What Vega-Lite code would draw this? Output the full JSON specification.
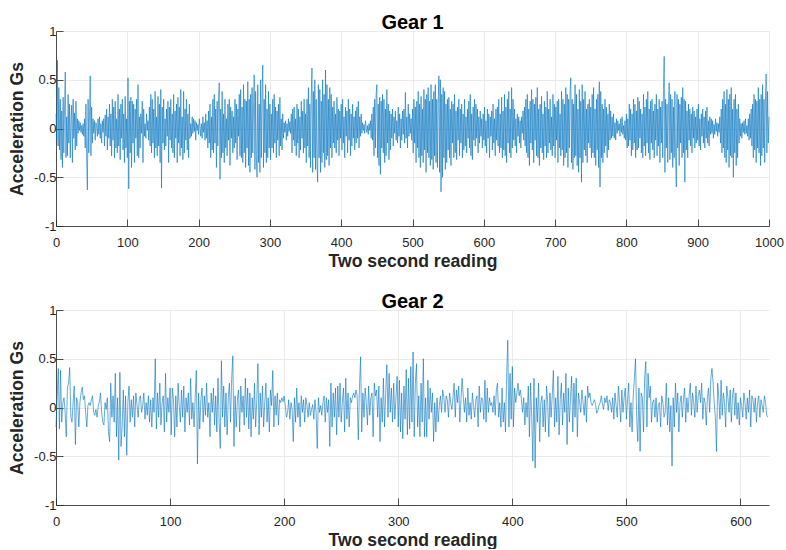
{
"$schema": "https://vega.github.io/schema/vega-lite/v6.json",
"padding": {"left": 8, "top": 13, "right": 10, "bottom": 0},
"spacing": 22,
"config": {
 "view": {"stroke": null},
 "axis": {"domainColor": "#262626", "domainWidth": 0.8, "tickColor": "#262626", "tickSize": -7, "tickWidth": 0.8, "labelFont": "Liberation Sans", "labelFontSize": 13, "labelColor": "#262626", "titleFont": "Liberation Sans", "titleFontSize": 17.6, "titleFontWeight": "bold", "titleColor": "#262626", "gridColor": "#e6e6e6", "gridWidth": 0.8, "labelFlush": false, "labelOverlap": false},
 "axisX": {"labelPadding": 17, "titlePadding": 3},
 "axisY": {"labelPadding": 7, "titlePadding": 7},
 "title": {"font": "Liberation Sans", "fontSize": 20, "fontWeight": "bold", "color": "#000000", "offset": -8, "anchor": "middle", "baseline": "alphabetic", "frame": "group"}
},
"datasets": {
"g1": [
{"x":0,"y":0.15},{"x":1,"y":-0.12},{"x":2,"y":0.7},{"x":3,"y":-0.18},{"x":4,"y":0.42},{"x":5,"y":-0.22},{"x":6,"y":0.3},{"x":7,"y":-0.32},{"x":8,"y":0.18},{"x":9,"y":-0.4},
{"x":10,"y":0.32},{"x":11,"y":-0.25},{"x":12,"y":0.2},{"x":13,"y":0.58},{"x":14,"y":-0.3},{"x":15,"y":0.12},{"x":16,"y":-0.28},{"x":17,"y":0.35},{"x":18,"y":-0.15},{"x":19,"y":0.25},
{"x":20,"y":-0.3},{"x":21,"y":0.08},{"x":22,"y":0.24},{"x":23,"y":-0.35},{"x":24,"y":0.3},{"x":25,"y":-0.1},{"x":26,"y":0.16},{"x":27,"y":-0.22},{"x":28,"y":0.28},{"x":29,"y":-0.18},
{"x":30,"y":0.1},{"x":31,"y":-0.05},{"x":32,"y":0.08},{"x":33,"y":-0.02},{"x":34,"y":0.06},{"x":35,"y":-0.04},{"x":36,"y":0.03},{"x":37,"y":-0.06},{"x":38,"y":0.05},{"x":39,"y":-0.08},
{"x":40,"y":0.1},{"x":41,"y":-0.2},{"x":42,"y":0.25},{"x":43,"y":-0.3},{"x":44,"y":-0.63},{"x":45,"y":0.3},{"x":46,"y":-0.25},{"x":47,"y":0.12},{"x":48,"y":0.54},{"x":49,"y":-0.28},
{"x":50,"y":0.22},{"x":51,"y":-0.15},{"x":52,"y":0.1},{"x":53,"y":-0.05},{"x":54,"y":0.08},{"x":55,"y":-0.12},{"x":56,"y":0.06},{"x":57,"y":0.02},{"x":58,"y":-0.08},{"x":59,"y":0.1},
{"x":60,"y":-0.06},{"x":61,"y":0.12},{"x":62,"y":-0.1},{"x":63,"y":0.05},{"x":64,"y":-0.15},{"x":65,"y":0.08},{"x":66,"y":-0.04},{"x":67,"y":0.1},{"x":68,"y":-0.18},{"x":69,"y":0.14},
{"x":70,"y":-0.08},{"x":71,"y":0.2},{"x":72,"y":-0.22},{"x":73,"y":0.12},{"x":74,"y":-0.1},{"x":75,"y":0.25},{"x":76,"y":-0.18},{"x":77,"y":0.15},{"x":78,"y":-0.28},{"x":79,"y":0.3},
{"x":80,"y":-0.12},{"x":81,"y":0.22},{"x":82,"y":-0.3},{"x":83,"y":0.28},{"x":84,"y":-0.2},{"x":85,"y":0.1},{"x":86,"y":-0.25},{"x":87,"y":0.35},{"x":88,"y":-0.18},{"x":89,"y":0.2},
{"x":90,"y":-0.32},{"x":91,"y":0.25},{"x":92,"y":-0.1},{"x":93,"y":0.3},{"x":94,"y":-0.22},{"x":95,"y":0.15},{"x":96,"y":-0.35},{"x":97,"y":0.33},{"x":98,"y":-0.2},{"x":99,"y":0.1},
{"x":100,"y":-0.3},{"x":101,"y":0.52},{"x":102,"y":-0.62},{"x":103,"y":0.28},{"x":104,"y":-0.25},{"x":105,"y":0.32},{"x":106,"y":-0.4},{"x":107,"y":0.28},{"x":108,"y":-0.15},{"x":109,"y":0.25},
{"x":110,"y":-0.35},{"x":111,"y":0.2},{"x":112,"y":-0.1},{"x":113,"y":0.3},{"x":114,"y":-0.28},{"x":115,"y":0.45},{"x":116,"y":-0.3},{"x":117,"y":0.12},{"x":118,"y":-0.2},{"x":119,"y":0.15},
{"x":120,"y":-0.05},{"x":121,"y":0.28},{"x":122,"y":-0.35},{"x":123,"y":0.2},{"x":124,"y":-0.08},{"x":125,"y":0.05},{"x":126,"y":-0.1},{"x":127,"y":0.15},{"x":128,"y":-0.02},{"x":129,"y":0.08},
{"x":130,"y":-0.12},{"x":131,"y":0.22},{"x":132,"y":-0.18},{"x":133,"y":0.35},{"x":134,"y":-0.25},{"x":135,"y":0.3},{"x":136,"y":-0.15},{"x":137,"y":0.2},{"x":138,"y":-0.3},{"x":139,"y":0.38},
{"x":140,"y":-0.2},{"x":141,"y":0.12},{"x":142,"y":-0.28},{"x":143,"y":0.33},{"x":144,"y":-0.18},{"x":145,"y":0.25},{"x":146,"y":-0.35},{"x":147,"y":0.4},{"x":148,"y":-0.61},{"x":149,"y":0.22},
{"x":150,"y":-0.15},{"x":151,"y":0.3},{"x":152,"y":-0.22},{"x":153,"y":0.1},{"x":154,"y":-0.18},{"x":155,"y":0.2},{"x":156,"y":-0.08},{"x":157,"y":0.28},{"x":158,"y":-0.35},{"x":159,"y":0.22},
{"x":160,"y":-0.12},{"x":161,"y":0.3},{"x":162,"y":-0.2},{"x":163,"y":0.15},{"x":164,"y":-0.25},{"x":165,"y":0.35},{"x":166,"y":-0.3},{"x":167,"y":0.18},{"x":168,"y":-0.1},{"x":169,"y":0.25},
{"x":170,"y":-0.35},{"x":171,"y":0.32},{"x":172,"y":-0.15},{"x":173,"y":0.22},{"x":174,"y":-0.28},{"x":175,"y":0.4},{"x":176,"y":-0.2},{"x":177,"y":0.12},{"x":178,"y":-0.32},{"x":179,"y":0.38},
{"x":180,"y":-0.25},{"x":181,"y":0.2},{"x":182,"y":-0.12},{"x":183,"y":0.3},{"x":184,"y":-0.22},{"x":185,"y":0.15},{"x":186,"y":-0.3},{"x":187,"y":0.25},{"x":188,"y":-0.1},{"x":189,"y":0.05},
{"x":190,"y":-0.08},{"x":191,"y":0.12},{"x":192,"y":-0.05},{"x":193,"y":0.1},{"x":194,"y":-0.03},{"x":195,"y":0.08},{"x":196,"y":-0.12},{"x":197,"y":0.06},{"x":198,"y":-0.02},{"x":199,"y":0.04},
{"x":200,"y":-0.06},{"x":201,"y":0.1},{"x":202,"y":0.02},{"x":203,"y":-0.08},{"x":204,"y":0.05},{"x":205,"y":-0.1},{"x":206,"y":0.12},{"x":207,"y":-0.04},{"x":208,"y":0.06},{"x":209,"y":-0.12},
{"x":210,"y":0.15},{"x":211,"y":-0.1},{"x":212,"y":0.08},{"x":213,"y":-0.2},{"x":214,"y":0.18},{"x":215,"y":-0.15},{"x":216,"y":0.25},{"x":217,"y":-0.3},{"x":218,"y":0.12},{"x":219,"y":-0.22},
{"x":220,"y":0.3},{"x":221,"y":-0.25},{"x":222,"y":0.35},{"x":223,"y":-0.15},{"x":224,"y":0.2},{"x":225,"y":-0.4},{"x":226,"y":0.28},{"x":227,"y":-0.18},{"x":228,"y":0.32},{"x":229,"y":0.47},
{"x":230,"y":-0.52},{"x":231,"y":0.2},{"x":232,"y":-0.3},{"x":233,"y":0.38},{"x":234,"y":-0.25},{"x":235,"y":0.15},{"x":236,"y":-0.35},{"x":237,"y":0.3},{"x":238,"y":-0.2},{"x":239,"y":0.1},
{"x":240,"y":-0.28},{"x":241,"y":0.25},{"x":242,"y":-0.12},{"x":243,"y":0.3},{"x":244,"y":-0.38},{"x":245,"y":0.22},{"x":246,"y":-0.1},{"x":247,"y":0.18},{"x":248,"y":-0.25},{"x":249,"y":0.12},
{"x":250,"y":-0.2},{"x":251,"y":0.3},{"x":252,"y":-0.15},{"x":253,"y":0.25},{"x":254,"y":-0.32},{"x":255,"y":0.2},{"x":256,"y":-0.08},{"x":257,"y":0.35},{"x":258,"y":-0.28},{"x":259,"y":0.4},
{"x":260,"y":-0.3},{"x":261,"y":0.22},{"x":262,"y":-0.35},{"x":263,"y":0.45},{"x":264,"y":-0.25},{"x":265,"y":0.3},{"x":266,"y":-0.4},{"x":267,"y":0.28},{"x":268,"y":-0.2},{"x":269,"y":0.48},
{"x":270,"y":-0.38},{"x":271,"y":0.3},{"x":272,"y":-0.45},{"x":273,"y":0.35},{"x":274,"y":-0.3},{"x":275,"y":0.42},{"x":276,"y":-0.25},{"x":277,"y":0.2},{"x":278,"y":0.55},{"x":279,"y":-0.42},
{"x":280,"y":0.38},{"x":281,"y":-0.3},{"x":282,"y":-0.5},{"x":283,"y":0.45},{"x":284,"y":-0.35},{"x":285,"y":0.25},{"x":286,"y":-0.45},{"x":287,"y":0.5},{"x":288,"y":-0.3},{"x":289,"y":0.35},
{"x":290,"y":0.65},{"x":291,"y":-0.4},{"x":292,"y":0.3},{"x":293,"y":-0.25},{"x":294,"y":0.45},{"x":295,"y":-0.35},{"x":296,"y":0.2},{"x":297,"y":-0.3},{"x":298,"y":0.38},{"x":299,"y":-0.2},
{"x":300,"y":0.25},{"x":301,"y":-0.32},{"x":302,"y":0.15},{"x":303,"y":-0.2},{"x":304,"y":0.3},{"x":305,"y":-0.25},{"x":306,"y":0.35},{"x":307,"y":-0.15},{"x":308,"y":0.22},{"x":309,"y":-0.3},
{"x":310,"y":0.18},{"x":311,"y":-0.12},{"x":312,"y":0.25},{"x":313,"y":-0.28},{"x":314,"y":0.32},{"x":315,"y":-0.18},{"x":316,"y":0.1},{"x":317,"y":-0.22},{"x":318,"y":0.15},{"x":319,"y":-0.1},
{"x":320,"y":0.06},{"x":321,"y":-0.04},{"x":322,"y":0.08},{"x":323,"y":-0.12},{"x":324,"y":0.05},{"x":325,"y":-0.08},{"x":326,"y":0.1},{"x":327,"y":-0.03},{"x":328,"y":0.07},{"x":329,"y":-0.05},
{"x":330,"y":0.15},{"x":331,"y":-0.25},{"x":332,"y":0.2},{"x":333,"y":-0.12},{"x":334,"y":0.22},{"x":335,"y":-0.18},{"x":336,"y":0.1},{"x":337,"y":-0.28},{"x":338,"y":0.25},{"x":339,"y":-0.15},
{"x":340,"y":0.2},{"x":341,"y":-0.3},{"x":342,"y":0.12},{"x":343,"y":-0.22},{"x":344,"y":0.28},{"x":345,"y":-0.1},{"x":346,"y":0.18},{"x":347,"y":-0.25},{"x":348,"y":0.3},{"x":349,"y":-0.2},
{"x":350,"y":0.15},{"x":351,"y":-0.35},{"x":352,"y":0.3},{"x":353,"y":-0.18},{"x":354,"y":0.42},{"x":355,"y":-0.3},{"x":356,"y":0.25},{"x":357,"y":-0.4},{"x":358,"y":0.35},{"x":359,"y":0.62},
{"x":360,"y":-0.45},{"x":361,"y":0.38},{"x":362,"y":-0.3},{"x":363,"y":0.5},{"x":364,"y":-0.42},{"x":365,"y":0.3},{"x":366,"y":-0.35},{"x":367,"y":-0.55},{"x":368,"y":0.45},{"x":369,"y":-0.3},
{"x":370,"y":0.4},{"x":371,"y":-0.45},{"x":372,"y":0.28},{"x":373,"y":-0.35},{"x":374,"y":0.5},{"x":375,"y":-0.25},{"x":376,"y":0.35},{"x":377,"y":-0.4},{"x":378,"y":0.6},{"x":379,"y":-0.32},
{"x":380,"y":0.45},{"x":381,"y":-0.28},{"x":382,"y":0.3},{"x":383,"y":-0.38},{"x":384,"y":0.42},{"x":385,"y":-0.2},{"x":386,"y":0.35},{"x":387,"y":-0.3},{"x":388,"y":0.22},{"x":389,"y":-0.15},
{"x":390,"y":0.28},{"x":391,"y":-0.2},{"x":392,"y":0.15},{"x":393,"y":-0.25},{"x":394,"y":0.32},{"x":395,"y":-0.12},{"x":396,"y":0.2},{"x":397,"y":-0.28},{"x":398,"y":0.18},{"x":399,"y":-0.1},
{"x":400,"y":0.25},{"x":401,"y":-0.22},{"x":402,"y":0.3},{"x":403,"y":-0.15},{"x":404,"y":0.12},{"x":405,"y":-0.3},{"x":406,"y":0.22},{"x":407,"y":-0.08},{"x":408,"y":0.18},{"x":409,"y":-0.25},
{"x":410,"y":0.3},{"x":411,"y":-0.12},{"x":412,"y":0.2},{"x":413,"y":-0.28},{"x":414,"y":0.15},{"x":415,"y":-0.18},{"x":416,"y":0.25},{"x":417,"y":-0.1},{"x":418,"y":0.12},{"x":419,"y":-0.22},
{"x":420,"y":0.18},{"x":421,"y":-0.15},{"x":422,"y":0.22},{"x":423,"y":-0.1},{"x":424,"y":0.28},{"x":425,"y":-0.2},{"x":426,"y":0.12},{"x":427,"y":-0.08},{"x":428,"y":0.15},{"x":429,"y":-0.05},
{"x":430,"y":0.06},{"x":431,"y":-0.02},{"x":432,"y":0.04},{"x":433,"y":-0.05},{"x":434,"y":0.08},{"x":435,"y":0.02},{"x":436,"y":-0.04},{"x":437,"y":0.03},{"x":438,"y":-0.06},{"x":439,"y":0.05},
{"x":440,"y":-0.02},{"x":441,"y":0.08},{"x":442,"y":-0.1},{"x":443,"y":0.15},{"x":444,"y":-0.12},{"x":445,"y":0.22},{"x":446,"y":-0.28},{"x":447,"y":0.3},{"x":448,"y":-0.2},{"x":449,"y":0.35},
{"x":450,"y":0.45},{"x":451,"y":-0.3},{"x":452,"y":0.25},{"x":453,"y":-0.38},{"x":454,"y":0.32},{"x":455,"y":-0.47},{"x":456,"y":0.28},{"x":457,"y":-0.2},{"x":458,"y":0.35},{"x":459,"y":-0.25},
{"x":460,"y":0.3},{"x":461,"y":-0.35},{"x":462,"y":0.2},{"x":463,"y":-0.28},{"x":464,"y":0.4},{"x":465,"y":-0.15},{"x":466,"y":0.25},{"x":467,"y":-0.32},{"x":468,"y":0.18},{"x":469,"y":-0.22},
{"x":470,"y":0.15},{"x":471,"y":-0.1},{"x":472,"y":0.2},{"x":473,"y":-0.18},{"x":474,"y":0.12},{"x":475,"y":-0.05},{"x":476,"y":0.18},{"x":477,"y":-0.12},{"x":478,"y":0.08},{"x":479,"y":-0.15},
{"x":480,"y":0.22},{"x":481,"y":-0.08},{"x":482,"y":0.15},{"x":483,"y":-0.2},{"x":484,"y":0.1},{"x":485,"y":-0.12},{"x":486,"y":0.18},{"x":487,"y":-0.06},{"x":488,"y":0.2},{"x":489,"y":-0.15},
{"x":490,"y":0.37},{"x":491,"y":-0.1},{"x":492,"y":0.12},{"x":493,"y":-0.2},{"x":494,"y":0.25},{"x":495,"y":-0.08},{"x":496,"y":0.15},{"x":497,"y":-0.05},{"x":498,"y":0.1},{"x":499,"y":-0.12},
{"x":500,"y":0.2},{"x":501,"y":-0.25},{"x":502,"y":0.3},{"x":503,"y":-0.15},{"x":504,"y":0.22},{"x":505,"y":-0.35},{"x":506,"y":0.28},{"x":507,"y":-0.2},{"x":508,"y":0.38},{"x":509,"y":-0.3},
{"x":510,"y":0.25},{"x":511,"y":-0.4},{"x":512,"y":0.33},{"x":513,"y":-0.28},{"x":514,"y":0.2},{"x":515,"y":-0.35},{"x":516,"y":0.4},{"x":517,"y":-0.22},{"x":518,"y":0.3},{"x":519,"y":-0.45},
{"x":520,"y":0.35},{"x":521,"y":-0.25},{"x":522,"y":0.42},{"x":523,"y":-0.3},{"x":524,"y":0.28},{"x":525,"y":-0.38},{"x":526,"y":0.45},{"x":527,"y":-0.32},{"x":528,"y":0.3},{"x":529,"y":-0.42},
{"x":530,"y":0.38},{"x":531,"y":-0.28},{"x":532,"y":0.45},{"x":533,"y":-0.35},{"x":534,"y":0.3},{"x":535,"y":-0.4},{"x":536,"y":0.25},{"x":537,"y":0.54},{"x":538,"y":-0.45},{"x":539,"y":0.5},
{"x":540,"y":-0.65},{"x":541,"y":0.35},{"x":542,"y":-0.5},{"x":543,"y":0.42},{"x":544,"y":-0.3},{"x":545,"y":0.38},{"x":546,"y":-0.42},{"x":547,"y":0.25},{"x":548,"y":-0.35},{"x":549,"y":0.3},
{"x":550,"y":-0.22},{"x":551,"y":0.32},{"x":552,"y":-0.3},{"x":553,"y":0.2},{"x":554,"y":-0.38},{"x":555,"y":0.28},{"x":556,"y":-0.15},{"x":557,"y":0.25},{"x":558,"y":-0.3},{"x":559,"y":0.35},
{"x":560,"y":-0.25},{"x":561,"y":0.18},{"x":562,"y":-0.32},{"x":563,"y":0.22},{"x":564,"y":-0.12},{"x":565,"y":0.3},{"x":566,"y":-0.28},{"x":567,"y":0.2},{"x":568,"y":-0.15},{"x":569,"y":0.25},
{"x":570,"y":-0.3},{"x":571,"y":0.15},{"x":572,"y":-0.22},{"x":573,"y":0.3},{"x":574,"y":-0.18},{"x":575,"y":0.12},{"x":576,"y":-0.25},{"x":577,"y":0.2},{"x":578,"y":-0.1},{"x":579,"y":0.28},
{"x":580,"y":-0.2},{"x":581,"y":0.35},{"x":582,"y":-0.28},{"x":583,"y":0.15},{"x":584,"y":-0.32},{"x":585,"y":0.22},{"x":586,"y":-0.12},{"x":587,"y":0.3},{"x":588,"y":-0.18},{"x":589,"y":0.25},
{"x":590,"y":-0.1},{"x":591,"y":0.2},{"x":592,"y":-0.25},{"x":593,"y":0.12},{"x":594,"y":-0.15},{"x":595,"y":0.18},{"x":596,"y":-0.08},{"x":597,"y":0.1},{"x":598,"y":-0.2},{"x":599,"y":0.15},
{"x":600,"y":-0.12},{"x":601,"y":0.22},{"x":602,"y":-0.18},{"x":603,"y":0.08},{"x":604,"y":-0.25},{"x":605,"y":0.2},{"x":606,"y":-0.1},{"x":607,"y":0.15},{"x":608,"y":-0.3},{"x":609,"y":0.12},
{"x":610,"y":-0.08},{"x":611,"y":0.18},{"x":612,"y":-0.22},{"x":613,"y":0.25},{"x":614,"y":-0.15},{"x":615,"y":0.1},{"x":616,"y":-0.28},{"x":617,"y":0.2},{"x":618,"y":-0.12},{"x":619,"y":0.22},
{"x":620,"y":-0.18},{"x":621,"y":0.3},{"x":622,"y":-0.25},{"x":623,"y":0.15},{"x":624,"y":-0.2},{"x":625,"y":0.32},{"x":626,"y":-0.3},{"x":627,"y":0.18},{"x":628,"y":-0.22},{"x":629,"y":0.35},
{"x":630,"y":-0.28},{"x":631,"y":0.22},{"x":632,"y":-0.35},{"x":633,"y":0.3},{"x":634,"y":-0.15},{"x":635,"y":0.38},{"x":636,"y":-0.25},{"x":637,"y":0.2},{"x":638,"y":-0.3},{"x":639,"y":0.42},
{"x":640,"y":-0.2},{"x":641,"y":0.3},{"x":642,"y":-0.12},{"x":643,"y":0.2},{"x":644,"y":-0.18},{"x":645,"y":0.1},{"x":646,"y":-0.25},{"x":647,"y":0.15},{"x":648,"y":-0.08},{"x":649,"y":0.12},
{"x":650,"y":-0.15},{"x":651,"y":0.08},{"x":652,"y":-0.2},{"x":653,"y":0.12},{"x":654,"y":-0.05},{"x":655,"y":0.18},{"x":656,"y":-0.12},{"x":657,"y":0.22},{"x":658,"y":-0.18},{"x":659,"y":0.3},
{"x":660,"y":-0.25},{"x":661,"y":0.35},{"x":662,"y":-0.3},{"x":663,"y":0.2},{"x":664,"y":-0.38},{"x":665,"y":0.28},{"x":666,"y":-0.15},{"x":667,"y":0.4},{"x":668,"y":-0.22},{"x":669,"y":0.3},
{"x":670,"y":-0.35},{"x":671,"y":0.25},{"x":672,"y":-0.12},{"x":673,"y":0.32},{"x":674,"y":-0.28},{"x":675,"y":0.42},{"x":676,"y":-0.3},{"x":677,"y":0.2},{"x":678,"y":-0.38},{"x":679,"y":0.25},
{"x":680,"y":-0.2},{"x":681,"y":0.33},{"x":682,"y":-0.25},{"x":683,"y":0.15},{"x":684,"y":-0.32},{"x":685,"y":0.28},{"x":686,"y":-0.18},{"x":687,"y":0.22},{"x":688,"y":-0.3},{"x":689,"y":0.38},
{"x":690,"y":-0.25},{"x":691,"y":0.2},{"x":692,"y":-0.15},{"x":693,"y":0.3},{"x":694,"y":-0.22},{"x":695,"y":0.12},{"x":696,"y":-0.28},{"x":697,"y":0.35},{"x":698,"y":-0.18},{"x":699,"y":0.25},
{"x":700,"y":-0.3},{"x":701,"y":0.22},{"x":702,"y":-0.12},{"x":703,"y":0.28},{"x":704,"y":-0.35},{"x":705,"y":0.3},{"x":706,"y":-0.2},{"x":707,"y":0.15},{"x":708,"y":-0.28},{"x":709,"y":0.38},
{"x":710,"y":-0.22},{"x":711,"y":0.3},{"x":712,"y":-0.38},{"x":713,"y":0.25},{"x":714,"y":-0.3},{"x":715,"y":0.42},{"x":716,"y":-0.25},{"x":717,"y":0.35},{"x":718,"y":-0.4},{"x":719,"y":0.3},
{"x":720,"y":-0.2},{"x":721,"y":0.38},{"x":722,"y":0.52},{"x":723,"y":-0.35},{"x":724,"y":0.3},{"x":725,"y":-0.42},{"x":726,"y":0.25},{"x":727,"y":-0.3},{"x":728,"y":0.45},{"x":729,"y":-0.28},
{"x":730,"y":0.35},{"x":731,"y":-0.38},{"x":732,"y":0.2},{"x":733,"y":-0.45},{"x":734,"y":0.4},{"x":735,"y":-0.3},{"x":736,"y":0.28},{"x":737,"y":-0.55},{"x":738,"y":0.45},{"x":739,"y":-0.35},
{"x":740,"y":0.3},{"x":741,"y":-0.22},{"x":742,"y":0.38},{"x":743,"y":-0.28},{"x":744,"y":0.2},{"x":745,"y":-0.35},{"x":746,"y":0.25},{"x":747,"y":-0.15},{"x":748,"y":0.3},{"x":749,"y":-0.2},
{"x":750,"y":0.22},{"x":751,"y":-0.3},{"x":752,"y":0.35},{"x":753,"y":-0.25},{"x":754,"y":0.42},{"x":755,"y":-0.3},{"x":756,"y":0.2},{"x":757,"y":-0.38},{"x":758,"y":0.3},{"x":759,"y":-0.22},
{"x":760,"y":0.35},{"x":761,"y":-0.4},{"x":762,"y":0.48},{"x":763,"y":-0.6},{"x":764,"y":0.38},{"x":765,"y":-0.3},{"x":766,"y":0.25},{"x":767,"y":-0.35},{"x":768,"y":0.2},{"x":769,"y":-0.25},
{"x":770,"y":0.3},{"x":771,"y":-0.18},{"x":772,"y":0.22},{"x":773,"y":-0.3},{"x":774,"y":0.15},{"x":775,"y":-0.22},{"x":776,"y":0.25},{"x":777,"y":-0.12},{"x":778,"y":0.18},{"x":779,"y":-0.1},
{"x":780,"y":0.12},{"x":781,"y":-0.08},{"x":782,"y":0.15},{"x":783,"y":-0.1},{"x":784,"y":0.06},{"x":785,"y":-0.12},{"x":786,"y":0.1},{"x":787,"y":-0.05},{"x":788,"y":0.08},{"x":789,"y":-0.02},
{"x":790,"y":0.05},{"x":791,"y":-0.08},{"x":792,"y":0.1},{"x":793,"y":-0.04},{"x":794,"y":0.12},{"x":795,"y":-0.06},{"x":796,"y":0.03},{"x":797,"y":-0.1},{"x":798,"y":0.08},{"x":799,"y":-0.12},
{"x":800,"y":0.15},{"x":801,"y":-0.2},{"x":802,"y":0.1},{"x":803,"y":-0.18},{"x":804,"y":0.25},{"x":805,"y":-0.12},{"x":806,"y":0.2},{"x":807,"y":-0.28},{"x":808,"y":0.15},{"x":809,"y":-0.22},
{"x":810,"y":0.3},{"x":811,"y":-0.15},{"x":812,"y":0.25},{"x":813,"y":-0.3},{"x":814,"y":0.18},{"x":815,"y":-0.22},{"x":816,"y":0.32},{"x":817,"y":-0.2},{"x":818,"y":0.28},{"x":819,"y":-0.1},
{"x":820,"y":0.2},{"x":821,"y":-0.25},{"x":822,"y":0.15},{"x":823,"y":-0.3},{"x":824,"y":0.35},{"x":825,"y":-0.18},{"x":826,"y":0.22},{"x":827,"y":-0.28},{"x":828,"y":0.3},{"x":829,"y":-0.15},
{"x":830,"y":0.38},{"x":831,"y":-0.25},{"x":832,"y":0.2},{"x":833,"y":-0.32},{"x":834,"y":0.28},{"x":835,"y":-0.15},{"x":836,"y":0.3},{"x":837,"y":-0.22},{"x":838,"y":0.18},{"x":839,"y":-0.3},
{"x":840,"y":0.25},{"x":841,"y":-0.12},{"x":842,"y":0.35},{"x":843,"y":-0.28},{"x":844,"y":0.2},{"x":845,"y":-0.18},{"x":846,"y":0.3},{"x":847,"y":-0.35},{"x":848,"y":0.22},{"x":849,"y":-0.15},
{"x":850,"y":0.28},{"x":851,"y":-0.3},{"x":852,"y":0.4},{"x":853,"y":0.74},{"x":854,"y":-0.45},{"x":855,"y":0.3},{"x":856,"y":-0.2},{"x":857,"y":0.25},{"x":858,"y":-0.35},{"x":859,"y":0.2},
{"x":860,"y":0.47},{"x":861,"y":-0.32},{"x":862,"y":0.35},{"x":863,"y":-0.25},{"x":864,"y":0.3},{"x":865,"y":-0.4},{"x":866,"y":0.22},{"x":867,"y":-0.3},{"x":868,"y":0.38},{"x":869,"y":-0.28},
{"x":870,"y":-0.6},{"x":871,"y":0.35},{"x":872,"y":-0.2},{"x":873,"y":0.3},{"x":874,"y":-0.38},{"x":875,"y":0.25},{"x":876,"y":-0.15},{"x":877,"y":0.32},{"x":878,"y":-0.3},{"x":879,"y":0.42},
{"x":880,"y":-0.25},{"x":881,"y":0.3},{"x":882,"y":-0.55},{"x":883,"y":0.28},{"x":884,"y":-0.22},{"x":885,"y":0.18},{"x":886,"y":-0.3},{"x":887,"y":0.25},{"x":888,"y":-0.12},{"x":889,"y":0.2},
{"x":890,"y":-0.18},{"x":891,"y":0.15},{"x":892,"y":-0.25},{"x":893,"y":0.22},{"x":894,"y":-0.1},{"x":895,"y":0.18},{"x":896,"y":-0.2},{"x":897,"y":0.12},{"x":898,"y":-0.15},{"x":899,"y":0.2},
{"x":900,"y":-0.12},{"x":901,"y":0.25},{"x":902,"y":-0.18},{"x":903,"y":0.1},{"x":904,"y":-0.22},{"x":905,"y":0.15},{"x":906,"y":-0.08},{"x":907,"y":0.2},{"x":908,"y":-0.15},{"x":909,"y":0.12},
{"x":910,"y":-0.2},{"x":911,"y":0.18},{"x":912,"y":-0.1},{"x":913,"y":0.22},{"x":914,"y":-0.15},{"x":915,"y":0.08},{"x":916,"y":-0.18},{"x":917,"y":0.12},{"x":918,"y":-0.06},{"x":919,"y":0.1},
{"x":920,"y":-0.05},{"x":921,"y":0.08},{"x":922,"y":-0.1},{"x":923,"y":0.04},{"x":924,"y":-0.06},{"x":925,"y":0.1},{"x":926,"y":-0.03},{"x":927,"y":0.06},{"x":928,"y":-0.08},{"x":929,"y":0.05},
{"x":930,"y":-0.04},{"x":931,"y":0.12},{"x":932,"y":-0.15},{"x":933,"y":0.2},{"x":934,"y":-0.25},{"x":935,"y":0.3},{"x":936,"y":-0.2},{"x":937,"y":0.38},{"x":938,"y":-0.3},{"x":939,"y":0.25},
{"x":940,"y":-0.35},{"x":941,"y":0.4},{"x":942,"y":-0.22},{"x":943,"y":0.3},{"x":944,"y":-0.4},{"x":945,"y":0.35},{"x":946,"y":-0.28},{"x":947,"y":0.42},{"x":948,"y":-0.3},{"x":949,"y":0.2},
{"x":950,"y":-0.5},{"x":951,"y":0.3},{"x":952,"y":-0.25},{"x":953,"y":0.35},{"x":954,"y":-0.38},{"x":955,"y":0.2},{"x":956,"y":-0.3},{"x":957,"y":0.25},{"x":958,"y":-0.15},{"x":959,"y":0.1},
{"x":960,"y":-0.08},{"x":961,"y":0.05},{"x":962,"y":-0.1},{"x":963,"y":0.06},{"x":964,"y":-0.04},{"x":965,"y":0.08},{"x":966,"y":-0.06},{"x":967,"y":0.1},{"x":968,"y":-0.05},{"x":969,"y":0.03},
{"x":970,"y":-0.08},{"x":971,"y":0.1},{"x":972,"y":-0.12},{"x":973,"y":0.15},{"x":974,"y":-0.1},{"x":975,"y":0.2},{"x":976,"y":-0.18},{"x":977,"y":0.25},{"x":978,"y":-0.3},{"x":979,"y":0.35},
{"x":980,"y":-0.22},{"x":981,"y":0.3},{"x":982,"y":-0.35},{"x":983,"y":0.28},{"x":984,"y":-0.2},{"x":985,"y":0.42},{"x":986,"y":-0.25},{"x":987,"y":0.3},{"x":988,"y":-0.38},{"x":989,"y":0.35},
{"x":990,"y":-0.28},{"x":991,"y":0.45},{"x":992,"y":-0.2},{"x":993,"y":0.3},{"x":994,"y":-0.35},{"x":995,"y":0.28},{"x":996,"y":0.56},{"x":997,"y":-0.25},{"x":998,"y":0.38},{"x":999,"y":-0.15},
{"x":1000,"y":0.12}
],
"g2": [
{"x":0,"y":-0.2},{"x":1,"y":0.1},{"x":2,"y":0.4},{"x":3,"y":-0.22},{"x":4,"y":0.38},{"x":5,"y":-0.15},{"x":6,"y":0.05},{"x":7,"y":0.1},{"x":8,"y":-0.05},{"x":9,"y":-0.3},
{"x":10,"y":0.2},{"x":11,"y":0.25},{"x":12,"y":0.41},{"x":13,"y":-0.1},{"x":14,"y":-0.15},{"x":15,"y":0.05},{"x":16,"y":0.22},{"x":17,"y":-0.38},{"x":18,"y":0.1},{"x":19,"y":0.05},
{"x":20,"y":-0.2},{"x":21,"y":0.06},{"x":22,"y":0.15},{"x":23,"y":0.21},{"x":24,"y":0.08},{"x":25,"y":0.12},{"x":26,"y":-0.05},{"x":27,"y":-0.2},{"x":28,"y":0.02},{"x":29,"y":0.05},
{"x":30,"y":0.02},{"x":31,"y":0.08},{"x":32,"y":0.12},{"x":33,"y":-0.05},{"x":34,"y":-0.08},{"x":35,"y":-0.02},{"x":36,"y":-0.1},{"x":37,"y":0.01},{"x":38,"y":0.06},{"x":39,"y":0.15},
{"x":40,"y":-0.05},{"x":41,"y":-0.15},{"x":42,"y":-0.18},{"x":43,"y":0.05},{"x":44,"y":-0.02},{"x":45,"y":0.1},{"x":46,"y":-0.25},{"x":47,"y":-0.35},{"x":48,"y":0.25},{"x":49,"y":-0.1},
{"x":50,"y":0.12},{"x":51,"y":-0.15},{"x":52,"y":0.35},{"x":53,"y":-0.3},{"x":54,"y":0.1},{"x":55,"y":-0.54},{"x":56,"y":0.36},{"x":57,"y":-0.4},{"x":58,"y":-0.2},{"x":59,"y":0.18},
{"x":60,"y":-0.3},{"x":61,"y":0.12},{"x":62,"y":-0.49},{"x":63,"y":0.05},{"x":64,"y":0.22},{"x":65,"y":-0.15},{"x":66,"y":0.08},{"x":67,"y":-0.1},{"x":68,"y":0.12},{"x":69,"y":-0.2},
{"x":70,"y":0.15},{"x":71,"y":0.03},{"x":72,"y":-0.1},{"x":73,"y":0.08},{"x":74,"y":0.12},{"x":75,"y":-0.05},{"x":76,"y":0.02},{"x":77,"y":0.15},{"x":78,"y":-0.12},{"x":79,"y":0.05},
{"x":80,"y":-0.08},{"x":81,"y":0.12},{"x":82,"y":-0.15},{"x":83,"y":0.08},{"x":84,"y":-0.2},{"x":85,"y":0.1},{"x":86,"y":-0.05},{"x":87,"y":0.5},{"x":88,"y":-0.22},{"x":89,"y":0.15},
{"x":90,"y":-0.1},{"x":91,"y":0.25},{"x":92,"y":-0.18},{"x":93,"y":0.05},{"x":94,"y":0.12},{"x":95,"y":-0.25},{"x":96,"y":0.35},{"x":97,"y":-0.15},{"x":98,"y":0.1},{"x":99,"y":-0.05},
{"x":100,"y":0.2},{"x":101,"y":-0.28},{"x":102,"y":0.2},{"x":103,"y":0.08},{"x":104,"y":-0.3},{"x":105,"y":0.12},{"x":106,"y":-0.2},{"x":107,"y":0.25},{"x":108,"y":0.02},{"x":109,"y":-0.15},
{"x":110,"y":0.18},{"x":111,"y":-0.1},{"x":112,"y":0.22},{"x":113,"y":-0.25},{"x":114,"y":0.1},{"x":115,"y":-0.05},{"x":116,"y":0.15},{"x":117,"y":-0.18},{"x":118,"y":0.3},{"x":119,"y":-0.12},
{"x":120,"y":0.05},{"x":121,"y":-0.2},{"x":122,"y":0.1},{"x":123,"y":0.38},{"x":124,"y":-0.58},{"x":125,"y":0.15},{"x":126,"y":-0.22},{"x":127,"y":0.08},{"x":128,"y":0.2},{"x":129,"y":-0.15},
{"x":130,"y":0.12},{"x":131,"y":-0.08},{"x":132,"y":0.25},{"x":133,"y":-0.1},{"x":134,"y":0.05},{"x":135,"y":-0.3},{"x":136,"y":0.15},{"x":137,"y":-0.05},{"x":138,"y":0.2},{"x":139,"y":-0.18},
{"x":140,"y":0.12},{"x":141,"y":-0.25},{"x":142,"y":0.3},{"x":143,"y":-0.15},{"x":144,"y":-0.42},{"x":145,"y":0.48},{"x":146,"y":-0.1},{"x":147,"y":0.22},{"x":148,"y":-0.2},{"x":149,"y":0.15},
{"x":150,"y":-0.28},{"x":151,"y":0.1},{"x":152,"y":0.25},{"x":153,"y":-0.15},{"x":154,"y":0.3},{"x":155,"y":0.53},{"x":156,"y":-0.4},{"x":157,"y":0.12},{"x":158,"y":-0.2},{"x":159,"y":0.08},
{"x":160,"y":0.18},{"x":161,"y":-0.25},{"x":162,"y":0.22},{"x":163,"y":-0.05},{"x":164,"y":0.12},{"x":165,"y":-0.18},{"x":166,"y":0.3},{"x":167,"y":-0.1},{"x":168,"y":0.2},{"x":169,"y":-0.22},
{"x":170,"y":0.15},{"x":171,"y":-0.3},{"x":172,"y":0.1},{"x":173,"y":-0.12},{"x":174,"y":0.25},{"x":175,"y":-0.2},{"x":176,"y":0.08},{"x":177,"y":0.45},{"x":178,"y":-0.28},{"x":179,"y":0.15},
{"x":180,"y":-0.1},{"x":181,"y":0.22},{"x":182,"y":-0.2},{"x":183,"y":0.05},{"x":184,"y":0.25},{"x":185,"y":-0.15},{"x":186,"y":0.1},{"x":187,"y":-0.25},{"x":188,"y":0.18},{"x":189,"y":0.02},
{"x":190,"y":0.38},{"x":191,"y":-0.2},{"x":192,"y":0.12},{"x":193,"y":-0.08},{"x":194,"y":0.15},{"x":195,"y":-0.18},{"x":196,"y":0.08},{"x":197,"y":0.05},{"x":198,"y":0.1},{"x":199,"y":0.06},
{"x":200,"y":0.12},{"x":201,"y":0.02},{"x":202,"y":-0.1},{"x":203,"y":-0.05},{"x":204,"y":0.08},{"x":205,"y":-0.12},{"x":206,"y":0.05},{"x":207,"y":-0.02},{"x":208,"y":-0.35},{"x":209,"y":0.1},
{"x":210,"y":-0.15},{"x":211,"y":0.2},{"x":212,"y":-0.1},{"x":213,"y":0.05},{"x":214,"y":-0.2},{"x":215,"y":0.12},{"x":216,"y":-0.05},{"x":217,"y":0.08},{"x":218,"y":-0.15},{"x":219,"y":0.1},
{"x":220,"y":0.02},{"x":221,"y":-0.1},{"x":222,"y":0.05},{"x":223,"y":-0.08},{"x":224,"y":-0.02},{"x":225,"y":0.03},{"x":226,"y":-0.12},{"x":227,"y":0.08},{"x":228,"y":-0.05},{"x":229,"y":-0.42},
{"x":230,"y":0.1},{"x":231,"y":-0.05},{"x":232,"y":0.02},{"x":233,"y":-0.08},{"x":234,"y":0.05},{"x":235,"y":0.12},{"x":236,"y":-0.15},{"x":237,"y":0.1},{"x":238,"y":-0.05},{"x":239,"y":0.08},
{"x":240,"y":-0.4},{"x":241,"y":0.25},{"x":242,"y":-0.2},{"x":243,"y":0.15},{"x":244,"y":-0.1},{"x":245,"y":0.2},{"x":246,"y":-0.28},{"x":247,"y":0.22},{"x":248,"y":-0.1},{"x":249,"y":0.25},
{"x":250,"y":-0.15},{"x":251,"y":0.05},{"x":252,"y":0.2},{"x":253,"y":-0.25},{"x":254,"y":0.3},{"x":255,"y":-0.12},{"x":256,"y":0.15},{"x":257,"y":-0.2},{"x":258,"y":0.1},{"x":259,"y":0.05},
{"x":260,"y":0.12},{"x":261,"y":0.15},{"x":262,"y":0.1},{"x":263,"y":0.18},{"x":264,"y":0.12},{"x":265,"y":-0.33},{"x":266,"y":0.2},{"x":267,"y":0.52},{"x":268,"y":-0.25},{"x":269,"y":0.15},
{"x":270,"y":-0.1},{"x":271,"y":0.2},{"x":272,"y":0.05},{"x":273,"y":-0.18},{"x":274,"y":0.22},{"x":275,"y":-0.08},{"x":276,"y":0.1},{"x":277,"y":0.15},{"x":278,"y":-0.3},{"x":279,"y":0.25},
{"x":280,"y":0.12},{"x":281,"y":0.18},{"x":282,"y":-0.1},{"x":283,"y":0.22},{"x":284,"y":-0.35},{"x":285,"y":0.1},{"x":286,"y":-0.15},{"x":287,"y":0.3},{"x":288,"y":-0.2},{"x":289,"y":0.15},
{"x":290,"y":0.44},{"x":291,"y":-0.1},{"x":292,"y":0.35},{"x":293,"y":-0.05},{"x":294,"y":0.2},{"x":295,"y":-0.15},{"x":296,"y":0.25},{"x":297,"y":-0.12},{"x":298,"y":0.1},{"x":299,"y":0.32},
{"x":300,"y":-0.2},{"x":301,"y":0.28},{"x":302,"y":-0.25},{"x":303,"y":0.15},{"x":304,"y":-0.32},{"x":305,"y":0.22},{"x":306,"y":-0.12},{"x":307,"y":0.39},{"x":308,"y":-0.28},{"x":309,"y":0.3},
{"x":310,"y":-0.22},{"x":311,"y":0.42},{"x":312,"y":-0.15},{"x":313,"y":0.57},{"x":314,"y":-0.3},{"x":315,"y":0.25},{"x":316,"y":0.45},{"x":317,"y":-0.2},{"x":318,"y":0.12},{"x":319,"y":-0.3},
{"x":320,"y":0.25},{"x":321,"y":-0.15},{"x":322,"y":0.5},{"x":323,"y":-0.3},{"x":324,"y":0.1},{"x":325,"y":-0.3},{"x":326,"y":0.28},{"x":327,"y":-0.12},{"x":328,"y":0.2},{"x":329,"y":-0.05},
{"x":330,"y":0.15},{"x":331,"y":-0.35},{"x":332,"y":0.05},{"x":333,"y":-0.25},{"x":334,"y":0.1},{"x":335,"y":-0.15},{"x":336,"y":0.02},{"x":337,"y":0.12},{"x":338,"y":-0.05},{"x":339,"y":0.18},
{"x":340,"y":0.1},{"x":341,"y":-0.05},{"x":342,"y":0.12},{"x":343,"y":0.08},{"x":344,"y":-0.1},{"x":345,"y":0.15},{"x":346,"y":0.05},{"x":347,"y":-0.02},{"x":348,"y":0.1},{"x":349,"y":0.25},
{"x":350,"y":-0.1},{"x":351,"y":0.18},{"x":352,"y":0.05},{"x":353,"y":0.22},{"x":354,"y":-0.15},{"x":355,"y":0.08},{"x":356,"y":0.3},{"x":357,"y":0.12},{"x":358,"y":-0.05},{"x":359,"y":0.1},
{"x":360,"y":-0.15},{"x":361,"y":0.2},{"x":362,"y":-0.08},{"x":363,"y":0.05},{"x":364,"y":-0.12},{"x":365,"y":0.15},{"x":366,"y":0.02},{"x":367,"y":-0.1},{"x":368,"y":0.08},{"x":369,"y":0.12},
{"x":370,"y":-0.2},{"x":371,"y":0.22},{"x":372,"y":-0.05},{"x":373,"y":0.1},{"x":374,"y":0.08},{"x":375,"y":-0.12},{"x":376,"y":0.28},{"x":377,"y":-0.15},{"x":378,"y":0.2},{"x":379,"y":-0.05},
{"x":380,"y":0.1},{"x":381,"y":0.02},{"x":382,"y":0.05},{"x":383,"y":-0.05},{"x":384,"y":0.12},{"x":385,"y":-0.08},{"x":386,"y":0.18},{"x":387,"y":0.25},{"x":388,"y":-0.1},{"x":389,"y":0.05},
{"x":390,"y":-0.2},{"x":391,"y":0.2},{"x":392,"y":-0.15},{"x":393,"y":0.05},{"x":394,"y":-0.25},{"x":395,"y":0.3},{"x":396,"y":0.69},{"x":397,"y":-0.2},{"x":398,"y":0.35},{"x":399,"y":-0.12},
{"x":400,"y":0.42},{"x":401,"y":-0.2},{"x":402,"y":0.2},{"x":403,"y":0.05},{"x":404,"y":0.15},{"x":405,"y":0.25},{"x":406,"y":0.12},{"x":407,"y":0.18},{"x":408,"y":0.08},{"x":409,"y":-0.05},
{"x":410,"y":0.1},{"x":411,"y":-0.18},{"x":412,"y":0.05},{"x":413,"y":-0.1},{"x":414,"y":0.22},{"x":415,"y":-0.3},{"x":416,"y":0.25},{"x":417,"y":-0.1},{"x":418,"y":-0.55},{"x":419,"y":0.3},
{"x":420,"y":-0.62},{"x":421,"y":0.1},{"x":422,"y":-0.15},{"x":423,"y":0.25},{"x":424,"y":-0.35},{"x":425,"y":0.05},{"x":426,"y":0.12},{"x":427,"y":-0.2},{"x":428,"y":0.08},{"x":429,"y":-0.25},
{"x":430,"y":0.22},{"x":431,"y":0.05},{"x":432,"y":-0.3},{"x":433,"y":0.15},{"x":434,"y":-0.1},{"x":435,"y":0.12},{"x":436,"y":0.38},{"x":437,"y":-0.2},{"x":438,"y":0.1},{"x":439,"y":-0.15},
{"x":440,"y":0.32},{"x":441,"y":-0.28},{"x":442,"y":0.08},{"x":443,"y":0.25},{"x":444,"y":-0.18},{"x":445,"y":0.15},{"x":446,"y":-0.05},{"x":447,"y":0.35},{"x":448,"y":-0.38},{"x":449,"y":0.2},
{"x":450,"y":-0.15},{"x":451,"y":0.1},{"x":452,"y":0.32},{"x":453,"y":-0.25},{"x":454,"y":0.25},{"x":455,"y":-0.1},{"x":456,"y":0.3},{"x":457,"y":-0.3},{"x":458,"y":0.15},{"x":459,"y":0.05},
{"x":460,"y":-0.05},{"x":461,"y":0.18},{"x":462,"y":0.05},{"x":463,"y":-0.08},{"x":464,"y":0.12},{"x":465,"y":-0.15},{"x":466,"y":0.22},{"x":467,"y":0.1},{"x":468,"y":0.15},{"x":469,"y":0.05},
{"x":470,"y":0.02},{"x":471,"y":0.05},{"x":472,"y":0.08},{"x":473,"y":0.03},{"x":474,"y":-0.06},{"x":475,"y":-0.03},{"x":476,"y":0.02},{"x":477,"y":0.05},{"x":478,"y":0.12},{"x":479,"y":0.04},
{"x":480,"y":-0.02},{"x":481,"y":0.1},{"x":482,"y":0.05},{"x":483,"y":0.12},{"x":484,"y":-0.03},{"x":485,"y":0.08},{"x":486,"y":0.05},{"x":487,"y":-0.05},{"x":488,"y":0.1},{"x":489,"y":-0.12},
{"x":490,"y":0.15},{"x":491,"y":0.02},{"x":492,"y":-0.1},{"x":493,"y":0.22},{"x":494,"y":0.05},{"x":495,"y":-0.15},{"x":496,"y":0.18},{"x":497,"y":-0.05},{"x":498,"y":0.1},{"x":499,"y":0.2},
{"x":500,"y":-0.12},{"x":501,"y":0.08},{"x":502,"y":0.25},{"x":503,"y":-0.2},{"x":504,"y":0.05},{"x":505,"y":-0.25},{"x":506,"y":0.12},{"x":507,"y":0.3},{"x":508,"y":0.5},{"x":509,"y":-0.1},
{"x":510,"y":-0.35},{"x":511,"y":0.2},{"x":512,"y":-0.45},{"x":513,"y":0.15},{"x":514,"y":0.1},{"x":515,"y":-0.25},{"x":516,"y":0.3},{"x":517,"y":0.47},{"x":518,"y":-0.2},{"x":519,"y":0.35},
{"x":520,"y":0.1},{"x":521,"y":0.22},{"x":522,"y":-0.15},{"x":523,"y":0.05},{"x":524,"y":0.08},{"x":525,"y":-0.1},{"x":526,"y":0.1},{"x":527,"y":-0.15},{"x":528,"y":0.03},{"x":529,"y":0.05},
{"x":530,"y":-0.2},{"x":531,"y":0.12},{"x":532,"y":0.05},{"x":533,"y":-0.1},{"x":534,"y":-0.05},{"x":535,"y":0.25},{"x":536,"y":-0.18},{"x":537,"y":0.1},{"x":538,"y":-0.25},{"x":539,"y":0.02},
{"x":540,"y":-0.6},{"x":541,"y":0.1},{"x":542,"y":-0.2},{"x":543,"y":0.25},{"x":544,"y":-0.05},{"x":545,"y":0.15},{"x":546,"y":-0.25},{"x":547,"y":0.05},{"x":548,"y":0.12},{"x":549,"y":-0.1},
{"x":550,"y":0.08},{"x":551,"y":0.2},{"x":552,"y":-0.15},{"x":553,"y":0.1},{"x":554,"y":-0.05},{"x":555,"y":0.12},{"x":556,"y":0.25},{"x":557,"y":-0.08},{"x":558,"y":0.15},{"x":559,"y":0.05},
{"x":560,"y":-0.1},{"x":561,"y":0.22},{"x":562,"y":-0.05},{"x":563,"y":0.12},{"x":564,"y":0.18},{"x":565,"y":0.05},{"x":566,"y":0.25},{"x":567,"y":-0.12},{"x":568,"y":0.1},{"x":569,"y":0.05},
{"x":570,"y":-0.18},{"x":571,"y":0.1},{"x":572,"y":0.2},{"x":573,"y":-0.05},{"x":574,"y":0.3},{"x":575,"y":0.4},{"x":576,"y":0.25},{"x":577,"y":0.05},{"x":578,"y":-0.1},{"x":579,"y":-0.45},
{"x":580,"y":0.25},{"x":581,"y":0.1},{"x":582,"y":-0.12},{"x":583,"y":0.28},{"x":584,"y":-0.08},{"x":585,"y":0.15},{"x":586,"y":0.05},{"x":587,"y":-0.2},{"x":588,"y":0.22},{"x":589,"y":0.1},
{"x":590,"y":-0.05},{"x":591,"y":0.18},{"x":592,"y":-0.15},{"x":593,"y":0.12},{"x":594,"y":0.2},{"x":595,"y":-0.08},{"x":596,"y":0.15},{"x":597,"y":-0.12},{"x":598,"y":0.05},{"x":599,"y":-0.18},
{"x":600,"y":0.1},{"x":601,"y":0.02},{"x":602,"y":-0.1},{"x":603,"y":0.15},{"x":604,"y":0.05},{"x":605,"y":-0.12},{"x":606,"y":0.1},{"x":607,"y":-0.05},{"x":608,"y":0.18},{"x":609,"y":-0.2},
{"x":610,"y":0.12},{"x":611,"y":0.08},{"x":612,"y":-0.05},{"x":613,"y":0.1},{"x":614,"y":-0.15},{"x":615,"y":0.05},{"x":616,"y":0.12},{"x":617,"y":-0.1},{"x":618,"y":0.08},{"x":619,"y":0.02},
{"x":620,"y":-0.05},{"x":621,"y":0.12},{"x":622,"y":0.05},{"x":623,"y":-0.08},{"x":624,"y":-0.1}
]
},
"vconcat": [
 {
  "title": {"text": "Gear 1"},
  "width": 713, "height": 195,
  "data": {"name": "g1"},
  "mark": {"type": "line", "color": "#0072BD", "strokeWidth": 0.6},
  "encoding": {
   "x": {"field": "x", "type": "quantitative", "scale": {"domain": [0, 1000], "nice": false}, "axis": {"values": [0,100,200,300,400,500,600,700,800,900,1000], "labelExpr": "'' + datum.value", "title": "Two second reading"}},
   "y": {"field": "y", "type": "quantitative", "scale": {"domain": [-1, 1], "nice": false}, "axis": {"values": [-1,-0.5,0,0.5,1], "labelExpr": "'' + datum.value", "title": "Acceleration Gs"}}
  }
 },
 {
  "title": {"text": "Gear 2"},
  "width": 713, "height": 195,
  "data": {"name": "g2"},
  "mark": {"type": "line", "color": "#0072BD", "strokeWidth": 0.6},
  "encoding": {
   "x": {"field": "x", "type": "quantitative", "scale": {"domain": [0, 625], "nice": false}, "axis": {"values": [0,100,200,300,400,500,600], "labelExpr": "'' + datum.value", "title": "Two second reading"}},
   "y": {"field": "y", "type": "quantitative", "scale": {"domain": [-1, 1], "nice": false}, "axis": {"values": [-1,-0.5,0,0.5,1], "labelExpr": "'' + datum.value", "title": "Acceleration Gs"}}
  }
 }
]
}
